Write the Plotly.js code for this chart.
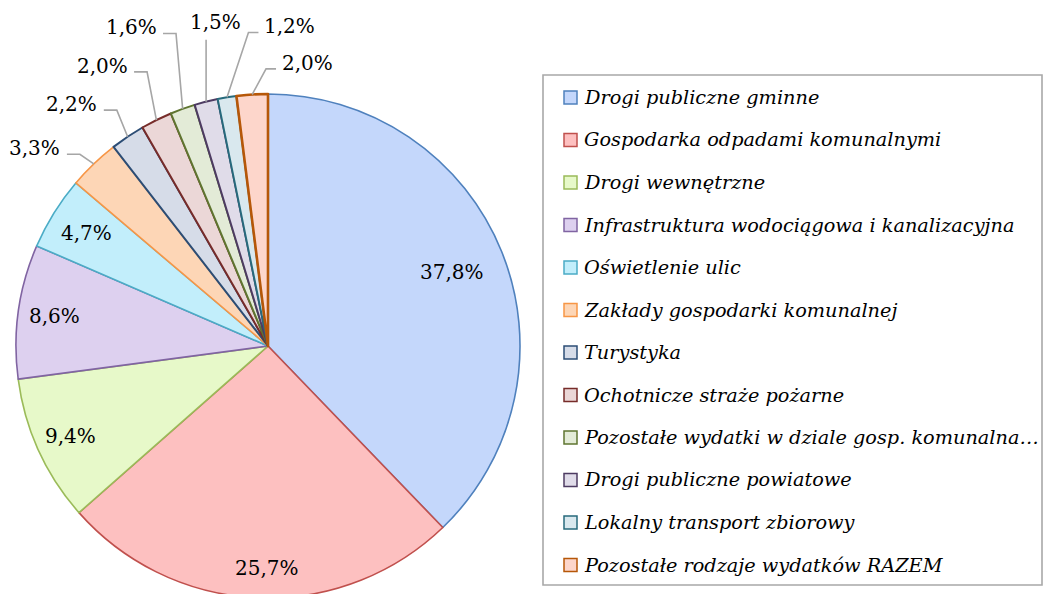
<!DOCTYPE html>
<html>
<head>
<meta charset="utf-8">
<script src="https://cdn.plot.ly/plotly-3.0.1.min.js"></script>
<style>
html,body{margin:0;padding:0;overflow:hidden;background:#fff;}
#chart{width:1047px;height:604px;}
</style>
</head>
<body>
<div id="chart"></div>
<script>
// ---- data ----
var categories = [
  "Drogi publiczne gminne",
  "Gospodarka odpadami komunalnymi",
  "Drogi wewnętrzne",
  "Infrastruktura wodociągowa i kanalizacyjna",
  "Oświetlenie ulic",
  "Zakłady gospodarki komunalnej",
  "Turystyka",
  "Ochotnicze straże pożarne",
  "Pozostałe wydatki w dziale gosp. komunalna…",
  "Drogi publiczne powiatowe",
  "Lokalny transport zbiorowy",
  "Pozostałe rodzaje wydatków RAZEM"
];
var shares = [37.8, 25.7, 9.4, 8.6, 4.7, 3.3, 2.2, 2.0, 1.6, 1.5, 1.2, 2.0];
var valueLabels = ["37,8%", "25,7%", "9,4%", "8,6%", "4,7%", "3,3%", "2,2%", "2,0%", "1,6%", "1,5%", "1,2%", "2,0%"];

// ---- styles ----
var fillColors = ["#c4d7fb", "#fdc0c0", "#e7f9c9", "#ddd0ef", "#c2eefb", "#fdd6b6",
                  "#d6dce8", "#ebd7d7", "#e3ebd7", "#e0dce9", "#d9e8ee", "#fdd6cb"];
var lineColors = ["#4f81bd", "#c0504d", "#9bbb59", "#8064a2", "#4bacc6", "#f79646",
                  "#2c4d75", "#772c2a", "#5f7530", "#4d3b62", "#276a7c", "#b65708"];
var lineWidths = [1.6, 1.6, 1.6, 1.6, 1.6, 1.6, 2, 2, 2, 2, 2, 2.6];
// label placement: [radius fraction, angle offset in degrees]
var labelPlace = [[0.786, 0], [0.88, -2], [0.86, 0], [0.857, 0], [0.85, 0],
                  [1.213, -5.95], [1.236, -5.2], [1.292, -4.36], [1.376, -3.47],
                  [1.303, 5.1], [1.271, 13.2], [1.134, 11.45]];
var outside = [false, false, false, false, false, true, true, true, true, true, true, true];

var W = 1047, H = 604;
var cx = 268, cy = 346, R = 252;
function px(x){ return x / W; }
function py(y){ return 1 - y / H; }

var total = shares.reduce(function(a,b){return a+b;}, 0);
var cum = 0, mids = [];
shares.forEach(function(v){ mids.push((cum + v/2) / total * 360); cum += v; });
function pt(r, deg){
  var a = deg * Math.PI / 180;
  return [cx + r * Math.sin(a), cy - r * Math.cos(a)];
}

var annotations = [], shapes = [];
var labelFont = {family: "DejaVu Serif, serif", size: 20, color: "#000"};

valueLabels.forEach(function(t, i){
  var p = pt(labelPlace[i][0] * R, mids[i] + labelPlace[i][1]);
  annotations.push({xref:"paper", yref:"paper", x:px(p[0]), y:py(p[1]),
    xanchor:"center", yanchor:"middle", text:t, showarrow:false, font:labelFont});
  if (outside[i]) {
    var e = pt(R, mids[i]);
    var path;
    if (p[0] < e[0] - 20) {
      var s = [p[0] + 32, p[1] + 6], b = [s[0] + 13, s[1]];
      path = "M" + px(s[0]) + "," + py(s[1]) + " L" + px(b[0]) + "," + py(b[1]) + " L" + px(e[0]) + "," + py(e[1]);
    } else if (p[0] > e[0] + 20) {
      var s2 = [p[0] - 31, p[1] + 6], b2 = [s2[0] - 10, s2[1]];
      path = "M" + px(s2[0]) + "," + py(s2[1]) + " L" + px(b2[0]) + "," + py(b2[1]) + " L" + px(e[0]) + "," + py(e[1]);
    } else {
      path = "M" + px(e[0]) + "," + py(p[1] + 18) + " L" + px(e[0]) + "," + py(e[1]);
    }
    shapes.push({type:"path", xref:"paper", yref:"paper", path:path,
      line:{color:"#a6a6a6", width:1.6}, layer:"above"});
  }
});

// ---- legend (drawn manually to match spacing) ----
var legX0 = 543, legY0 = 75, legX1 = 1042, legY1 = 585;
shapes.push({type:"rect", xref:"paper", yref:"paper",
  x0:px(legX0), x1:px(legX1), y0:py(legY0), y1:py(legY1),
  line:{color:"#a8a8a8", width:1.6}, fillcolor:"rgba(0,0,0,0)"});
categories.forEach(function(c, i){
  var yc = 97.5 + 42.5 * i;
  shapes.push({type:"rect", xref:"paper", yref:"paper",
    x0:px(564), x1:px(577), y0:py(yc - 6.5), y1:py(yc + 6.5),
    line:{color:lineColors[i], width:1.5}, fillcolor:fillColors[i]});
  annotations.push({xref:"paper", yref:"paper", x:px(582), y:py(yc),
    xanchor:"left", yanchor:"middle", text:"<i>" + c + "</i>", showarrow:false,
    font:{family:"DejaVu Serif, serif", size:19.3, color:"#000"}});
});

var trace = {
  type: "pie",
  labels: categories,
  values: shares,
  sort: false,
  direction: "clockwise",
  rotation: 0,
  textinfo: "none",
  hoverinfo: "skip",
  showlegend: false,
  marker: {colors: fillColors, line: {color: lineColors, width: lineWidths}},
  domain: {x: [px(cx - R), px(cx + R)], y: [py(cy + R), py(cy - R)]}
};

var layout = {
  width: W, height: H,
  margin: {l:0, r:0, t:0, b:0},
  paper_bgcolor: "#fff",
  showlegend: false,
  annotations: annotations,
  shapes: shapes
};

Plotly.newPlot("chart", [trace], layout, {displayModeBar:false, staticPlot:true});
</script>
</body>
</html>
